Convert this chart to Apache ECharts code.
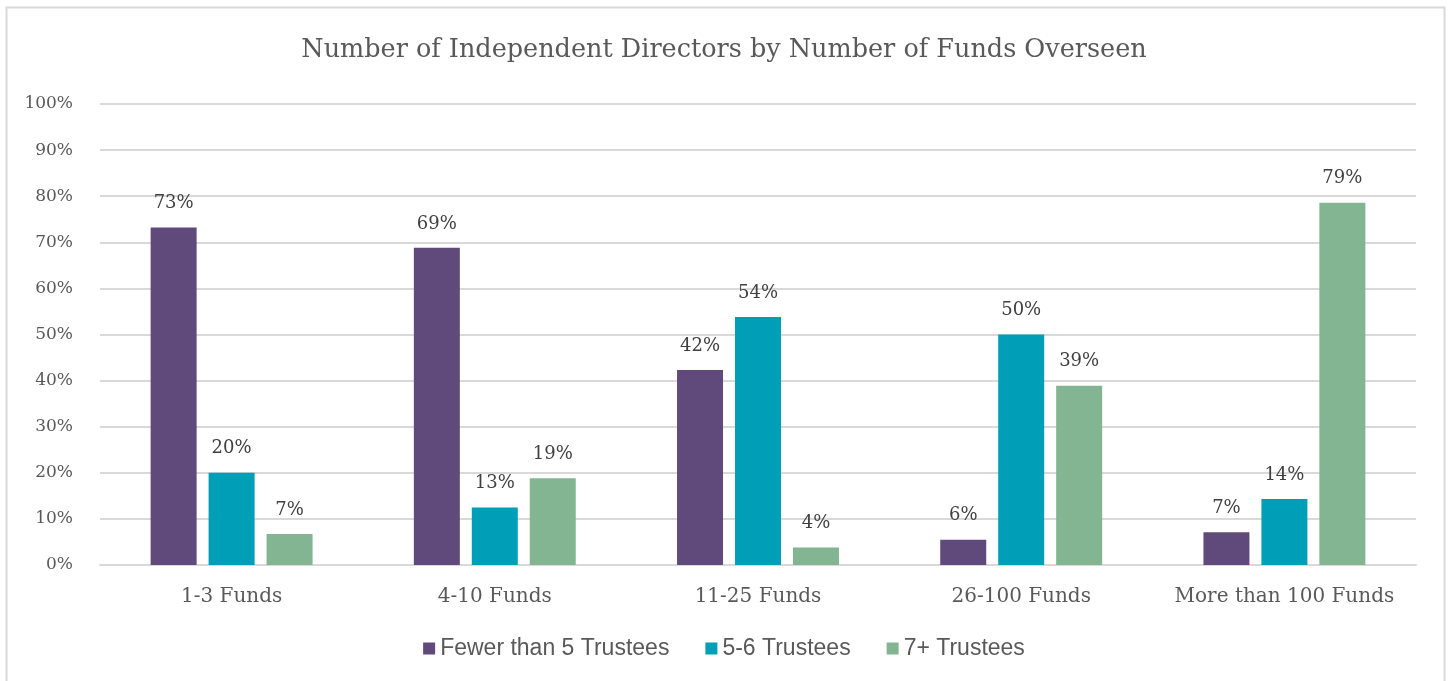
<!DOCTYPE html>
<html>
<head>
<meta charset="utf-8">
<title>Number of Independent Directors by Number of Funds Overseen</title>
<script src="https://cdn.jsdelivr.net/npm/echarts@6/dist/echarts.min.js"></script>
<style>
  html, body { margin: 0; padding: 0; background: #fff; }
  #chart { width: 1448px; height: 681px; }
</style>
</head>
<body>
<div id="chart"></div>
<script>
// 数据
var categories = ['1-3 Funds', '4-10 Funds', '11-25 Funds', '26-100 Funds', 'More than 100 Funds'];
var fewerThan5 = [73.2, 68.8, 42.3, 5.5, 7.1];
var fiveToSix = [20.0, 12.5, 53.8, 50.0, 14.3];
var sevenPlus = [6.7, 18.8, 3.8, 38.9, 78.6];
var seriesNames = ['Fewer than 5 Trustees', '5-6 Trustees', '7+ Trustees'];
var colors = ['#604a7b', '#009fb8', '#83b592'];

var serif = '"DejaVu Serif", "Liberation Serif", serif';
var textColor = '#595959';

myChart = echarts.init(document.getElementById('chart'));

function makeSeries(name, values, color) {
    return {
        name: name,
        type: 'bar',
        data: values,
        barWidth: 46,
        barGap: '26%',
        itemStyle: { color: color },
        label: {
            show: true,
            position: 'top',
            distance: 15,
            color: '#404040',
            fontFamily: serif,
            fontSize: 18,
            formatter: function (p) { return Math.round(p.value) + '%'; }
        }
    };
}

option = {
    backgroundColor: '#FFFFFF',
    color: colors,
    title: {
        text: 'Number of Independent Directors by Number of Funds Overseen',
        left: 'center',
        top: 32,
        textStyle: {
            color: textColor,
            fontFamily: serif,
            fontWeight: 'normal',
            fontSize: 25.5
        }
    },
    legend: {
        bottom: 16,
        left: 'center',
        itemWidth: 12,
        itemHeight: 12,
        itemGap: 36,
        icon: 'rect',
        textStyle: {
            color: textColor,
            fontFamily: '"Liberation Sans Narrow", "Liberation Sans", sans-serif',
            fontSize: 23
        },
        data: seriesNames
    },
    grid: {
        left: 100,
        right: 32,
        top: 104,
        bottom: 116,
        containLabel: false
    },
    xAxis: {
        type: 'category',
        data: categories,
        axisLine: { show: true, lineStyle: { color: '#d9d9d9', width: 2 } },
        axisTick: { show: false },
        axisLabel: {
            interval: 0,
            color: textColor,
            fontFamily: serif,
            fontSize: 20,
            margin: 22
        }
    },
    yAxis: {
        type: 'value',
        min: 0,
        max: 100,
        interval: 10,
        axisLine: { show: false },
        axisTick: { show: false },
        splitLine: { lineStyle: { color: '#d9d9d9', width: 2 } },
        axisLabel: {
            color: textColor,
            fontFamily: serif,
            fontSize: 17,
            margin: 27,
            formatter: '{value}%'
        }
    },
    graphic: [{
        type: 'rect',
        shape: { x: 6.5, y: 7.5, width: 1438, height: 690 },
        style: { fill: 'none', stroke: '#d9d9d9', lineWidth: 2 },
        silent: true
    }],
    series: [
        makeSeries(seriesNames[0], fewerThan5, colors[0]),
        makeSeries(seriesNames[1], fiveToSix, colors[1]),
        makeSeries(seriesNames[2], sevenPlus, colors[2])
    ]
};

myChart.setOption(option);
</script>
</body>
</html>
